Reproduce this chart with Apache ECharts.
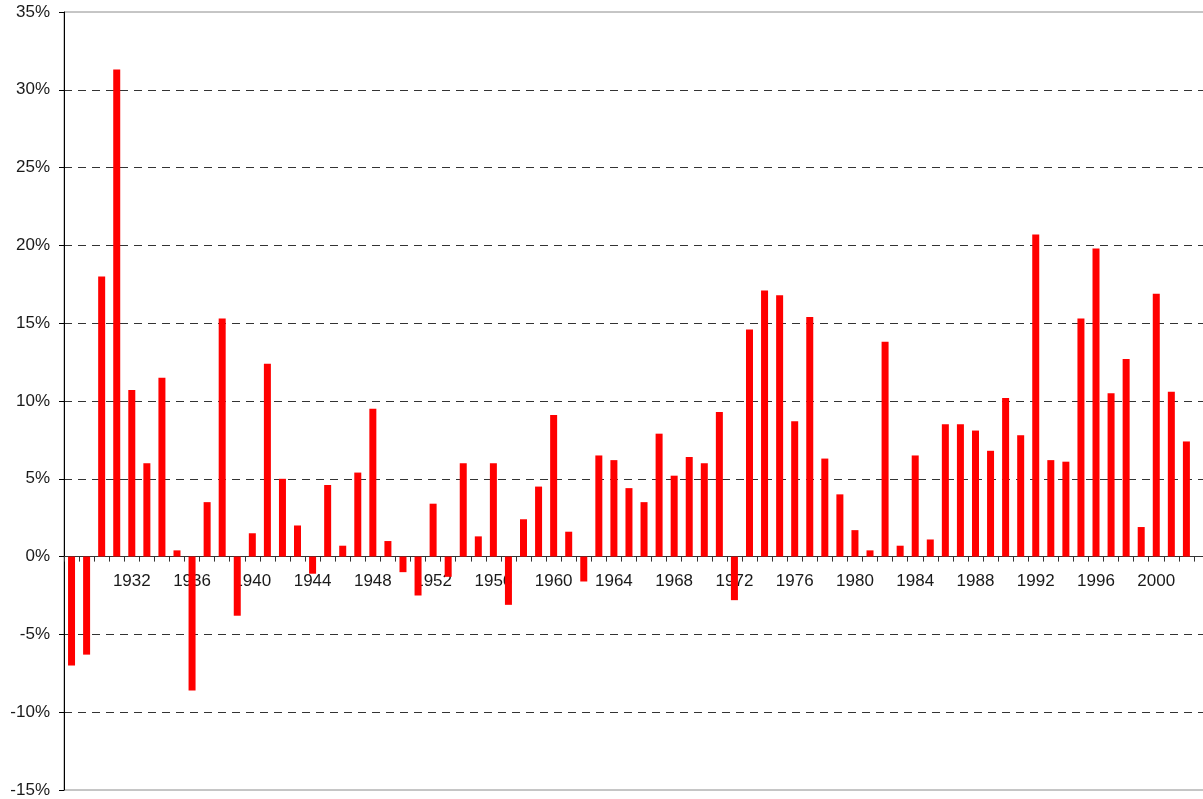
<!DOCTYPE html>
<html>
<head>
<meta charset="utf-8">
<script src="https://cdn.jsdelivr.net/npm/echarts@6/dist/echarts.min.js"></script>
<style>
  html, body { margin: 0; padding: 0; background: #fff; }
  #chart { width: 1203px; height: 799px; }
</style>
</head>
<body>
<div id="chart"></div>
<script>
// years 1928..2002, plus an empty 2003 slot cut off at the right edge
const years = []
for (let y = 1928; y <= 2003; y++) years.push(String(y))

// annual returns in %
const returns = [
  -7.0, -6.3, 18.0, 31.3, 10.7, 6.0, 11.5, 0.4, -8.6, 3.5,
  15.3, -3.8, 1.5, 12.4, 5.0, 2.0, -1.1, 4.6, 0.7, 5.4,
  9.5, 1.0, -1.0, -2.5, 3.4, -1.3, 6.0, 1.3, 6.0, -3.1,
  2.4, 4.5, 9.1, 1.6, -1.6, 6.5, 6.2, 4.4, 3.5, 7.9,
  5.2, 6.4, 6.0, 9.3, -2.8, 14.6, 17.1, 16.8, 8.7, 15.4,
  6.3, 4.0, 1.7, 0.4, 13.8, 0.7, 6.5, 1.1, 8.5, 8.5,
  8.1, 6.8, 10.2, 7.8, 20.7, 6.2, 6.1, 15.3, 19.8, 10.5,
  12.7, 1.9, 16.9, 10.6, 7.4, '-'
]

const yMin = -15
const yMax = 35
const gridTop = 12
const gridBottom = 9
const plotH = 799 - gridTop - gridBottom
// x axis sits on the zero line: shift it up from the bottom edge
const zeroOffset = -plotH * (0 - yMin) / (yMax - yMin)

const chart = echarts.init(document.getElementById('chart'))
chart.setOption({
  animation: false,
  grid: {
    left: 64,
    right: -6,
    top: gridTop,
    bottom: gridBottom,
    outerBoundsMode: 'none',
    containLabel: false,
    show: true,
    borderColor: '#8c8c8c',
    borderWidth: 1
  },
  xAxis: {
    type: 'category',
    data: years,
    position: 'bottom',
    offset: zeroOffset,
    axisLine: { onZero: false, lineStyle: { color: '#333', width: 1 } },
    axisTick: { show: true, interval: 0, length: 5, lineStyle: { color: '#333' } },
    axisLabel: {
      interval: (index) => index > 0 && index % 4 === 0,
      margin: 16,
      fontFamily: 'Liberation Sans',
      fontSize: 17,
      color: '#1a1a1a'
    },
    splitLine: { show: false }
  },
  yAxis: {
    type: 'value',
    min: yMin,
    max: yMax,
    interval: 5,
    axisLine: { show: true, lineStyle: { color: '#000', width: 1 } },
    axisTick: { show: true, length: 5, lineStyle: { color: '#000' } },
    axisLabel: {
      formatter: '{value}%',
      margin: 14,
      fontFamily: 'Liberation Sans',
      fontSize: 17,
      color: '#1a1a1a'
    },
    splitLine: {
      show: true,
      showMinLine: false,
      showMaxLine: false,
      lineStyle: { color: '#333', type: [8, 6], width: 1 }
    }
  },
  series: [
    {
      type: 'bar',
      data: returns,
      barWidth: 7,
      itemStyle: { color: '#ff0000' }
    }
  ]
})
</script>
</body>
</html>
